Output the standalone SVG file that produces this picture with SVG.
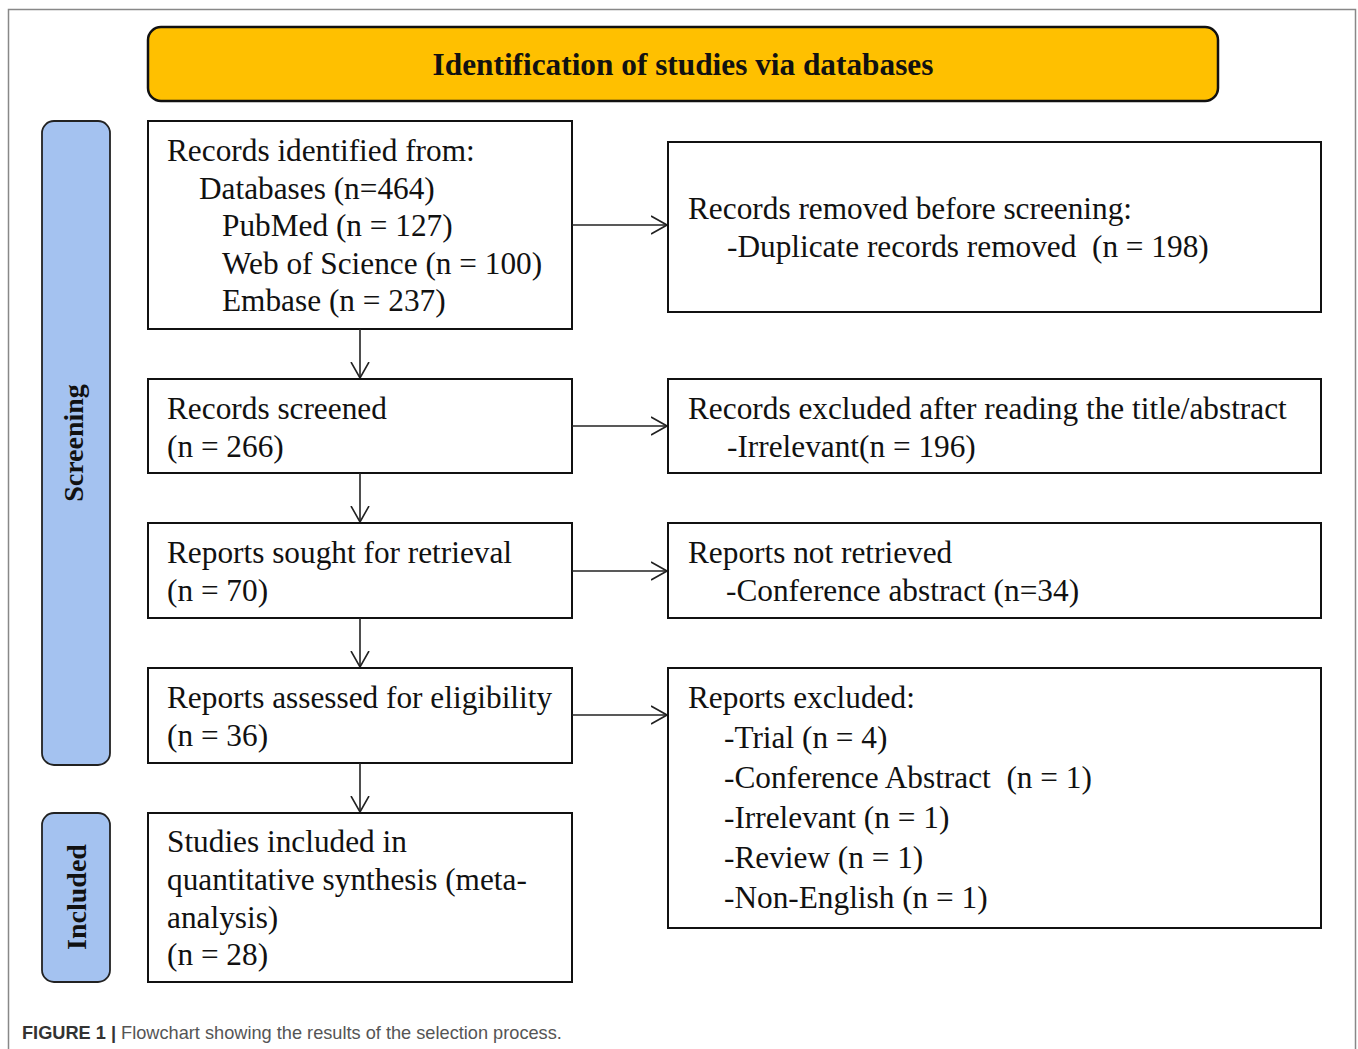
<svg xmlns="http://www.w3.org/2000/svg" width="1358" height="1049" viewBox="0 0 1358 1049">
<defs>
<style>
.t{font-family:"Liberation Serif","Times New Roman",serif;font-size:31.3px;fill:#111}
.b{fill:#fff;stroke:#111;stroke-width:2}
.side{fill:#A4C2F0;stroke:#222;stroke-width:1.8}
.sl{font-family:"Liberation Serif","Times New Roman",serif;font-size:28px;font-weight:bold;fill:#111}
.c{stroke:#222;stroke-width:1.6;fill:none}
</style>
<marker id="ah" viewBox="0 0 16 20" refX="16" refY="10" markerWidth="16" markerHeight="20" markerUnits="userSpaceOnUse" orient="auto">
<path d="M0,1 L16,10 L0,19" fill="none" stroke="#222" stroke-width="1.6"/>
</marker>
</defs>
<rect width="1358" height="1049" fill="#fff"/>
<path d="M8.5,1049 V9.5 H1355.5 V1049" fill="none" stroke="#888" stroke-width="1.5"/>

<g id="title">
<rect x="148" y="27" width="1070" height="74" rx="13" fill="#FFC000" stroke="#111" stroke-width="2.5"/>
<text x="683" y="75" text-anchor="middle" class="t" style="font-weight:bold">Identification of studies via databases</text>
</g>

<g id="screening-label">
<rect x="42" y="121" width="68" height="644" rx="12" class="side"/>
<text transform="translate(83,443) rotate(-90)" text-anchor="middle" class="sl">Screening</text>
</g>
<g id="included-label">
<rect x="42" y="813" width="68" height="169" rx="12" class="side"/>
<text transform="translate(86,897) rotate(-90)" text-anchor="middle" class="sl">Included</text>
</g>

<g id="identified">
<rect x="148" y="121" width="424" height="208" class="b"/>
<text class="t"><tspan x="167" y="161">Records identified from:</tspan><tspan x="199" y="199">Databases (n=464)</tspan><tspan x="222" y="236">PubMed (n = 127)</tspan><tspan x="222" y="274">Web of Science (n = 100)</tspan><tspan x="222" y="311">Embase (n = 237)</tspan></text>
</g>
<g id="removed">
<rect x="668" y="142" width="653" height="170" class="b"/>
<text class="t"><tspan x="688" y="219">Records removed before screening:</tspan><tspan x="727" y="257">-Duplicate records removed &#160;(n = 198)</tspan></text>
</g>
<g id="screened">
<rect x="148" y="379" width="424" height="94" class="b"/>
<text class="t"><tspan x="167" y="419">Records screened</tspan><tspan x="167" y="457">(n = 266)</tspan></text>
</g>
<g id="excluded-title">
<rect x="668" y="379" width="653" height="94" class="b"/>
<text class="t"><tspan x="688" y="419">Records excluded after reading the title/abstract</tspan><tspan x="727" y="457">-Irrelevant(n = 196)</tspan></text>
</g>
<g id="sought">
<rect x="148" y="523" width="424" height="95" class="b"/>
<text class="t"><tspan x="167" y="563">Reports sought for retrieval</tspan><tspan x="167" y="601">(n = 70)</tspan></text>
</g>
<g id="not-retrieved">
<rect x="668" y="523" width="653" height="95" class="b"/>
<text class="t"><tspan x="688" y="563">Reports not retrieved</tspan><tspan x="726" y="601">-Conference abstract (n=34)</tspan></text>
</g>
<g id="assessed">
<rect x="148" y="668" width="424" height="95" class="b"/>
<text class="t"><tspan x="167" y="708">Reports assessed for eligibility</tspan><tspan x="167" y="746">(n = 36)</tspan></text>
</g>
<g id="reports-excluded">
<rect x="668" y="668" width="653" height="260" class="b"/>
<text class="t"><tspan x="688" y="708">Reports excluded:</tspan><tspan x="724" y="748">-Trial (n = 4)</tspan><tspan x="724" y="788">-Conference Abstract &#160;(n = 1)</tspan><tspan x="724" y="828">-Irrelevant (n = 1)</tspan><tspan x="724" y="868">-Review (n = 1)</tspan><tspan x="724" y="908">-Non-English (n = 1)</tspan></text>
</g>
<g id="included">
<rect x="148" y="813" width="424" height="169" class="b"/>
<text class="t"><tspan x="167" y="852">Studies included in</tspan><tspan x="167" y="890">quantitative synthesis (meta-</tspan><tspan x="167" y="928">analysis)</tspan><tspan x="167" y="965">(n = 28)</tspan></text>
</g>

<g id="connectors">
<line x1="360" y1="329" x2="360" y2="378" class="c" marker-end="url(#ah)"/>
<line x1="360" y1="473" x2="360" y2="522" class="c" marker-end="url(#ah)"/>
<line x1="360" y1="618" x2="360" y2="667" class="c" marker-end="url(#ah)"/>
<line x1="360" y1="763" x2="360" y2="812" class="c" marker-end="url(#ah)"/>
<line x1="572" y1="225" x2="667" y2="225" class="c" marker-end="url(#ah)"/>
<line x1="572" y1="426" x2="667" y2="426" class="c" marker-end="url(#ah)"/>
<line x1="572" y1="571" x2="667" y2="571" class="c" marker-end="url(#ah)"/>
<line x1="572" y1="715" x2="667" y2="715" class="c" marker-end="url(#ah)"/>
</g>

<text x="22" y="1039" style="font-family:'Liberation Sans',Arial,sans-serif;font-size:18.2px;fill:#555"><tspan style="font-weight:bold;fill:#333">FIGURE 1 | </tspan>Flowchart showing the results of the selection process.</text>
</svg>
